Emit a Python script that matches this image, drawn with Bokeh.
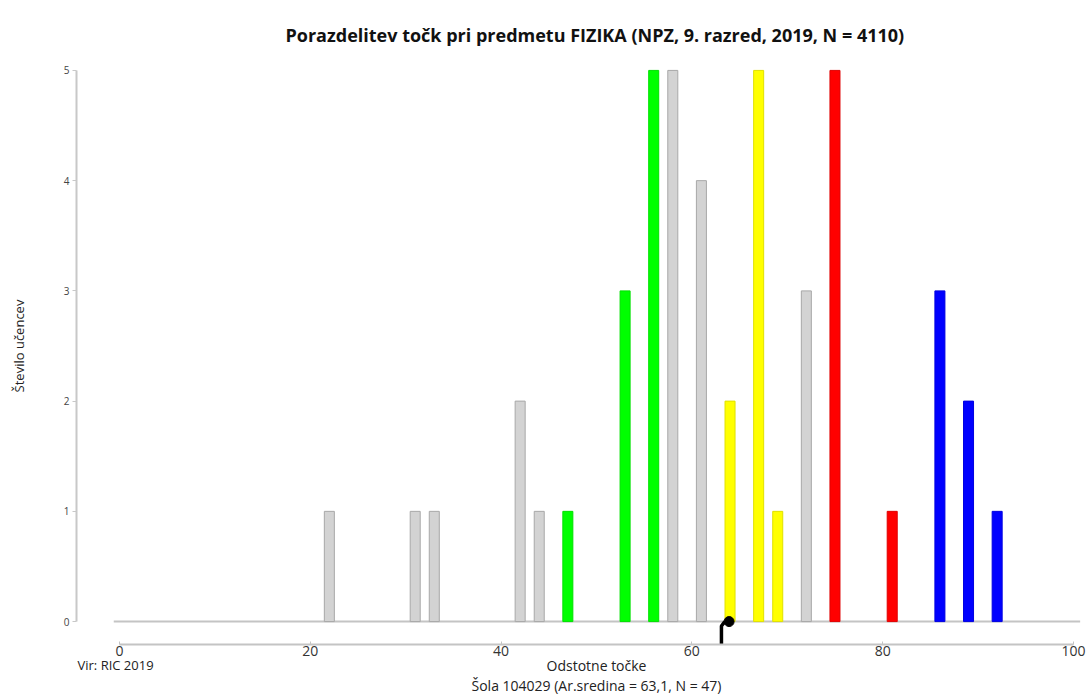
from bokeh.plotting import figure
from bokeh.models import Range1d, FixedTicker, Label, Title, ColumnDataSource
from bokeh.embed import file_html
from bokeh.resources import INLINE

# ---- data ----
points = [22, 31, 33, 42, 44, 47, 53, 56, 58, 61, 64, 67, 69, 72, 75, 81, 86, 89, 92]
counts = [1, 1, 1, 2, 1, 1, 3, 5, 5, 4, 2, 5, 1, 3, 5, 1, 3, 2, 1]
groups = ["gray", "gray", "gray", "gray", "gray", "green", "green", "green", "gray", "gray",
          "yellow", "yellow", "yellow", "gray", "red", "red", "blue", "blue", "blue"]
x_ticks = [0, 20, 40, 60, 80, 100]
y_ticks = [0, 1, 2, 3, 4, 5]
school_mean = 63.1
school_n = 47
mean_dot_x = 63.9

title_text = "Porazdelitev točk pri predmetu FIZIKA (NPZ, 9. razred, 2019, N = 4110)"
x_label = "Odstotne točke"
y_label = "Število učencev"
source_text = "Vir: RIC 2019"
school_text = "Šola 104029 (Ar.sredina = 63,1, N = 47)"

fill_map = {"gray": "#d3d3d3", "green": "#00ff00", "yellow": "#ffff00",
            "red": "#ff0000", "blue": "#0000ff"}
line_map = {"gray": "#a8a8a8", "green": "#00e000", "yellow": "#e0e000",
            "red": "#e00000", "blue": "#0000e0"}

FONT = "Open Sans"
X_AXIS_AT = -0.208   # x axis sits a little below the zero baseline
Y_AXIS_AT = -4.5     # y axis sits a little left of zero

src = ColumnDataSource(dict(
    x=points, top=counts,
    fill=[fill_map[g] for g in groups],
    line=[line_map[g] for g in groups],
))

p = figure(width=1089, height=694, output_backend="svg", toolbar_location=None,
           x_range=Range1d(-12.47, 101.68), y_range=Range1d(-0.471, 5.09),
           min_border_left=0, min_border_right=0, min_border_top=60, min_border_bottom=20)
p.outline_line_color = None
p.xgrid.visible = False
p.ygrid.visible = False

p.title.text = title_text
p.title.text_font = FONT
p.title.text_font_size = "18px"
p.title.text_font_style = "bold"
p.title.text_color = "#111111"
p.title.align = "left"
p.title.offset = 285
p.title.standoff = 28

# baseline
p.segment(x0=[-0.6], x1=[100.7], y0=[0], y1=[0], line_color="#c4c4c4", line_width=2)

# bars
p.vbar(x="x", top="top", bottom=0, width=1.05, source=src,
       fill_color="fill", line_color="line", line_width=1)

# school mean marker
p.line(x=[school_mean, school_mean, school_mean + 0.35], y=[X_AXIS_AT, -0.04, 0.0],
       line_color="black", line_width=3.5)
p.scatter(x=[mean_dot_x], y=[0], size=10, marker="circle", fill_color="black", line_color="black")

# axes
xa = p.xaxis[0]
xa.fixed_location = X_AXIS_AT
xa.bounds = (0, 100)
xa.ticker = FixedTicker(ticks=x_ticks)
xa.minor_tick_line_color = None
xa.major_tick_in = 3
xa.major_tick_out = 0
xa.axis_line_color = "#c4c4c4"
xa.axis_line_width = 2
xa.major_tick_line_color = "#c4c4c4"
xa.major_label_standoff = 1
xa.major_label_text_font = FONT
xa.major_label_text_font_size = "14px"
xa.major_label_text_color = "#333333"
xa.axis_label = x_label
xa.axis_label_standoff = -3
xa.axis_label_text_font = FONT
xa.axis_label_text_font_size = "14px"
xa.axis_label_text_font_style = "normal"
xa.axis_label_text_color = "#222222"

ya = p.yaxis[0]
ya.fixed_location = Y_AXIS_AT
ya.bounds = (0, 5)
ya.ticker = FixedTicker(ticks=y_ticks)
ya.minor_tick_line_color = None
ya.major_tick_in = 0
ya.major_tick_out = 4
ya.axis_line_color = "#c8c8c8"
ya.axis_line_width = 2
ya.major_tick_line_color = "#c8c8c8"
ya.major_label_standoff = 3
ya.major_label_text_font = FONT
ya.major_label_text_font_size = "10px"
ya.major_label_text_color = "#444444"
ya.major_label_orientation = "horizontal"
ya.axis_label = y_label
ya.axis_label_standoff = 33
ya.axis_label_text_font = FONT
ya.axis_label_text_font_size = "13px"
ya.axis_label_text_font_style = "normal"
ya.axis_label_text_color = "#222222"

p.add_layout(Label(x=-4.4, y=-0.39, text=source_text,
                   text_font=FONT, text_font_size="13px", text_color="#222222",
                   text_baseline="middle"))

p.add_layout(Title(text=school_text, align="left", offset=471, text_font=FONT,
                   text_font_size="14px", text_font_style="normal",
                   text_color="#222222", standoff=0), "below")

open("out.html", "w").write(file_html(p, INLINE))
